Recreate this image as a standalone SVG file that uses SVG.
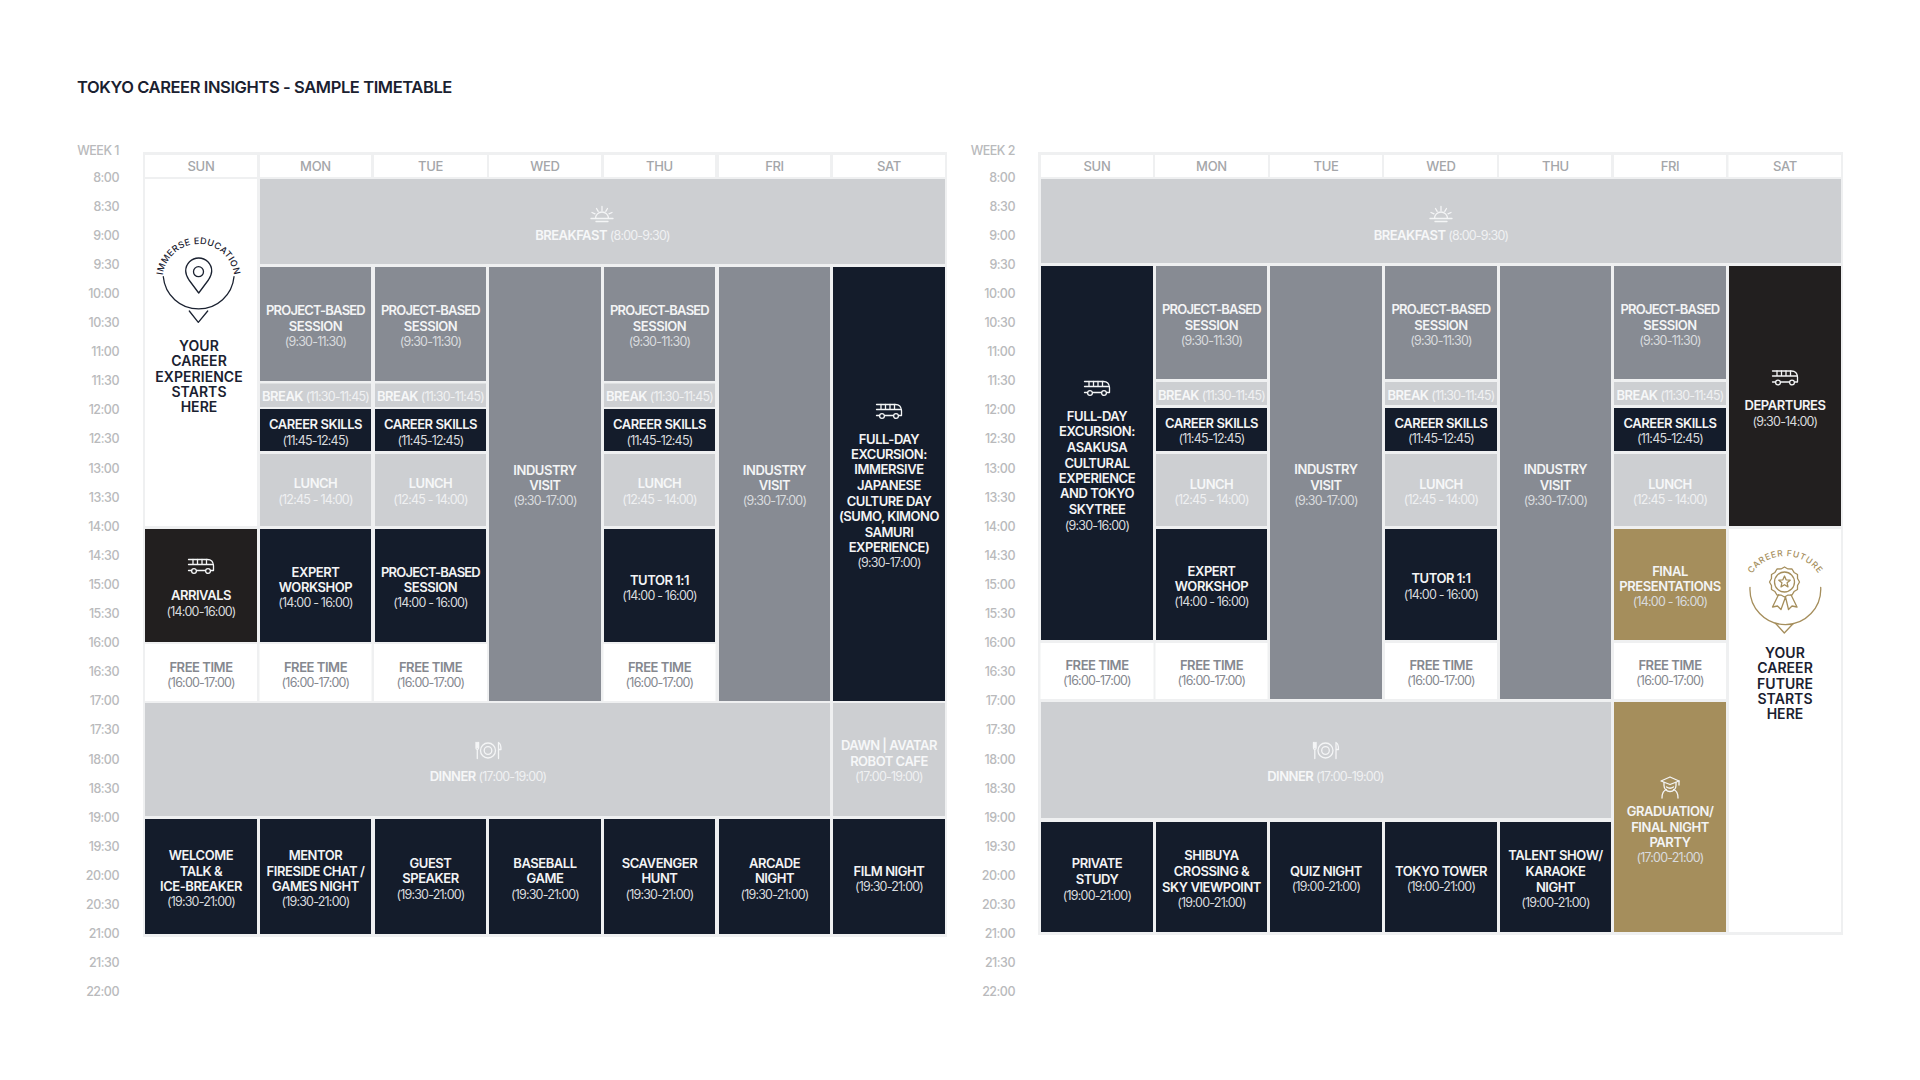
<svg xmlns="http://www.w3.org/2000/svg" xmlns:xlink="http://www.w3.org/1999/xlink" width="1920" height="1080" viewBox="0 0 1920 1080">
<style>
text{font-family:Inter,"Liberation Sans",sans-serif;text-anchor:middle}
.title{font-size:16.5px;font-weight:600;fill:#1a2130;text-anchor:start;letter-spacing:-.4px}
.hr{font-size:12.5px;font-weight:500;fill:#b9babc;text-anchor:end;letter-spacing:-.5px}
.day{font-size:13px;font-weight:500;fill:#a4a6a9;letter-spacing:-.3px}
.b{font-size:13px;font-weight:600;fill:#f3f4f5;letter-spacing:-.45px}
.pb{letter-spacing:-.8px}
.t{font-size:12.5px;font-weight:400;fill:#d9dbde;letter-spacing:-.8px}
.lb{font-size:13px;font-weight:600;fill:#f6f7f8;letter-spacing:-.5px}
.lt{font-size:12.5px;font-weight:400;fill:#f0f1f2;letter-spacing:-.8px}
.fb{font-size:13px;font-weight:600;fill:#85888f;letter-spacing:-.45px}
.ft{font-size:12.5px;font-weight:400;fill:#85888f;letter-spacing:-.8px}
.hd{font-size:14px;font-weight:600;fill:#1a2130;letter-spacing:.05px}
.arc{font-size:9px;font-weight:500}
.frame{fill:#eff0f1}.white{fill:#fff}.navy{fill:#141c2b}.char{fill:#221f1f}.mid{fill:#878b93}.light{fill:#cdcfd2}.gold{fill:#a58e5c}
.ic{fill:none;stroke-width:1.3;stroke-linecap:round;stroke-linejoin:round}
.w{stroke:#f4f5f6}
.goldl{stroke:#a58e5c}
.darkl{stroke:#1a2130}
</style>
<defs>
<g id="bus" class="ic w"><path d="M-12.5-6.500H6.500Q12-6.500 12.500-.5V4.500H10M4 4.500H-4M-9.500 4.500H-12.500Z"/><path d="M-12.500-1.500H12.300M-8-6.500V-1.500M-3.500-6.500V-1.500M1-6.500V-1.500M5.500-6.500V-1.500"/><circle cx="-7" cy="5" r="2.400"/><circle cx="7" cy="5" r="2.400"/></g>
<g id="sun" class="ic w"><path d="M-11 4.500H11M-6 7.500H6M-6.500 4.500A6.500 6.500 0 0 1 6.500 4.500"/><path d="M0-7.500V-3.500M-5.500-5.500L-3.800-2.600M5.500-5.500L3.800-2.600M-10-1.500L-7-.2M10-1.500L7-.2"/></g>
<g id="plate" class="ic w"><circle r="7.500"/><circle r="3.800"/><path d="M-12-8V-3Q-12-1-10.700-1V8M-10.700-8V-3M-9.400-8V-3Q-9.400-1-10.700-1M10.500 8V-8Q13-7 13-1H10.500"/></g>
<path id="arc1" d="M162.500 280A36 36 0 0 1 234.500 280"/>
<path id="arc2" d="M1747.300 583.500A40 40 0 0 1 1823.300 583.500"/>
</defs>
<rect class="white" width="1920" height="1080"/>
<text class="title" x="77" y="93">TOKYO CAREER INSIGHTS - SAMPLE TIMETABLE</text>

<g id="axis-week1">
<text class="hr" x="119" y="154.500">WEEK 1</text>
<text class="hr" x="119" y="181.500">8:00</text><text class="hr" x="119" y="210.600">8:30</text><text class="hr" x="119" y="239.700">9:00</text><text class="hr" x="119" y="268.800">9:30</text><text class="hr" x="119" y="297.900">10:00</text><text class="hr" x="119" y="327">10:30</text><text class="hr" x="119" y="356.100">11:00</text><text class="hr" x="119" y="385.200">11:30</text><text class="hr" x="119" y="414.300">12:00</text><text class="hr" x="119" y="443.400">12:30</text><text class="hr" x="119" y="472.500">13:00</text><text class="hr" x="119" y="501.600">13:30</text><text class="hr" x="119" y="530.700">14:00</text><text class="hr" x="119" y="559.800">14:30</text><text class="hr" x="119" y="588.900">15:00</text><text class="hr" x="119" y="618">15:30</text><text class="hr" x="119" y="647.100">16:00</text><text class="hr" x="119" y="676.200">16:30</text><text class="hr" x="119" y="705.300">17:00</text><text class="hr" x="119" y="734.400">17:30</text><text class="hr" x="119" y="763.500">18:00</text><text class="hr" x="119" y="792.600">18:30</text><text class="hr" x="119" y="821.700">19:00</text><text class="hr" x="119" y="850.800">19:30</text><text class="hr" x="119" y="879.900">20:00</text><text class="hr" x="119" y="909">20:30</text><text class="hr" x="119" y="938.100">21:00</text><text class="hr" x="119" y="967.200">21:30</text><text class="hr" x="119" y="996.300">22:00</text>
</g>
<g id="axis-week2">
<text class="hr" x="1015" y="154.500">WEEK 2</text>
<text class="hr" x="1015" y="181.500">8:00</text><text class="hr" x="1015" y="210.600">8:30</text><text class="hr" x="1015" y="239.700">9:00</text><text class="hr" x="1015" y="268.800">9:30</text><text class="hr" x="1015" y="297.900">10:00</text><text class="hr" x="1015" y="327">10:30</text><text class="hr" x="1015" y="356.100">11:00</text><text class="hr" x="1015" y="385.200">11:30</text><text class="hr" x="1015" y="414.300">12:00</text><text class="hr" x="1015" y="443.400">12:30</text><text class="hr" x="1015" y="472.500">13:00</text><text class="hr" x="1015" y="501.600">13:30</text><text class="hr" x="1015" y="530.700">14:00</text><text class="hr" x="1015" y="559.800">14:30</text><text class="hr" x="1015" y="588.900">15:00</text><text class="hr" x="1015" y="618">15:30</text><text class="hr" x="1015" y="647.100">16:00</text><text class="hr" x="1015" y="676.200">16:30</text><text class="hr" x="1015" y="705.300">17:00</text><text class="hr" x="1015" y="734.400">17:30</text><text class="hr" x="1015" y="763.500">18:00</text><text class="hr" x="1015" y="792.600">18:30</text><text class="hr" x="1015" y="821.700">19:00</text><text class="hr" x="1015" y="850.800">19:30</text><text class="hr" x="1015" y="879.900">20:00</text><text class="hr" x="1015" y="909">20:30</text><text class="hr" x="1015" y="938.100">21:00</text><text class="hr" x="1015" y="967.200">21:30</text><text class="hr" x="1015" y="996.300">22:00</text>
</g>

<g id="week1">
<rect class="frame" x="143" y="152" width="804" height="785"/>
<g id="w1-head"><rect class="white" x="145" y="155" width="112" height="22"/><rect class="white" x="260" y="155" width="111" height="22"/><rect class="white" x="374" y="155" width="113" height="22"/><rect class="white" x="489" y="155" width="112" height="22"/><rect class="white" x="604" y="155" width="111" height="22"/><rect class="white" x="719" y="155" width="111" height="22"/><rect class="white" x="833" y="155" width="112" height="22"/>
<text class="day" x="201" y="171">SUN</text><text class="day" x="315.500" y="171">MON</text><text class="day" x="430.500" y="171">TUE</text><text class="day" x="545" y="171">WED</text><text class="day" x="659.500" y="171">THU</text><text class="day" x="774.500" y="171">FRI</text><text class="day" x="889" y="171">SAT</text></g>

<g id="w1-sun-intro"><rect class="white" x="145" y="179" width="112" height="347"/>
<text class="arc" fill="#1a2130" letter-spacing=".4"><textPath href="#arc1" xlink:href="#arc1" startOffset="50%">IMMERSE EDUCATION</textPath></text>
<g class="ic darkl"><path d="M163.300 276.700A35.500 35.500 0 0 0 234 276.700"/><path d="M189.300 311L198.300 322.300L207.700 311"/><path d="M198.700 293L189 280Q185.700 275 185.700 271A13 13 0 0 1 211.700 271Q211.700 275 208.400 280Z"/><circle cx="198.500" cy="271.700" r="5"/></g>
<text class="hd" x="199" y="351">YOUR</text><text class="hd" x="199" y="366.300">CAREER</text><text class="hd" x="199" y="381.700">EXPERIENCE</text><text class="hd" x="199" y="397">STARTS</text><text class="hd" x="199" y="412.400">HERE</text></g>

<g id="w1-breakfast"><rect class="light" x="260" y="179" width="685" height="85"/><use href="#sun" xlink:href="#sun" x="602" y="214"/><text x="602.500" y="239.500"><tspan class="lb">BREAKFAST</tspan><tspan class="lt"> (8:00-9:30)</tspan></text></g>

<g id="w1-mon-session"><rect class="mid" x="260" y="267" width="111" height="114"/><text class="b pb" x="315.500" y="315">PROJECT-BASED</text><text class="b" x="315.500" y="330.500">SESSION</text><text class="t" x="315.500" y="346">(9:30-11:30)</text></g>
<g id="w1-tue-session"><rect class="mid" x="375" y="267" width="111" height="114"/><text class="b pb" x="430.500" y="315">PROJECT-BASED</text><text class="b" x="430.500" y="330.500">SESSION</text><text class="t" x="430.500" y="346">(9:30-11:30)</text></g>
<g id="w1-thu-session"><rect class="mid" x="604" y="267" width="111" height="114"/><text class="b pb" x="659.500" y="315">PROJECT-BASED</text><text class="b" x="659.500" y="330.500">SESSION</text><text class="t" x="659.500" y="346">(9:30-11:30)</text></g>

<g id="w1-mon-break"><rect class="light" x="260" y="383.500" width="111" height="23.500"/><text x="315.500" y="401"><tspan class="lb">BREAK</tspan><tspan class="lt"> (11:30-11:45)</tspan></text></g>
<g id="w1-tue-break"><rect class="light" x="375" y="383.500" width="111" height="23.500"/><text x="430.500" y="401"><tspan class="lb">BREAK</tspan><tspan class="lt"> (11:30-11:45)</tspan></text></g>
<g id="w1-thu-break"><rect class="light" x="604" y="383.500" width="111" height="23.500"/><text x="659.500" y="401"><tspan class="lb">BREAK</tspan><tspan class="lt"> (11:30-11:45)</tspan></text></g>

<g id="w1-mon-skills"><rect class="navy" x="260" y="409" width="111" height="42"/><text class="b" x="315.500" y="429">CAREER SKILLS</text><text class="t" x="315.500" y="444.500">(11:45-12:45)</text></g>
<g id="w1-tue-skills"><rect class="navy" x="375" y="409" width="111" height="42"/><text class="b" x="430.500" y="429">CAREER SKILLS</text><text class="t" x="430.500" y="444.500">(11:45-12:45)</text></g>
<g id="w1-thu-skills"><rect class="navy" x="604" y="409" width="111" height="42"/><text class="b" x="659.500" y="429">CAREER SKILLS</text><text class="t" x="659.500" y="444.500">(11:45-12:45)</text></g>

<g id="w1-mon-lunch"><rect class="light" x="260" y="454" width="111" height="72"/><text class="lb" x="315.500" y="488">LUNCH</text><text class="lt" x="315.500" y="503.500">(12:45 - 14:00)</text></g>
<g id="w1-tue-lunch"><rect class="light" x="375" y="454" width="111" height="72"/><text class="lb" x="430.500" y="488">LUNCH</text><text class="lt" x="430.500" y="503.500">(12:45 - 14:00)</text></g>
<g id="w1-thu-lunch"><rect class="light" x="604" y="454" width="111" height="72"/><text class="lb" x="659.500" y="488">LUNCH</text><text class="lt" x="659.500" y="503.500">(12:45 - 14:00)</text></g>

<g id="w1-wed-visit"><rect class="mid" x="489" y="267" width="112" height="434"/><text class="b" x="545" y="475">INDUSTRY</text><text class="b" x="545" y="490">VISIT</text><text class="t" x="545" y="505">(9:30-17:00)</text></g>
<g id="w1-fri-visit"><rect class="mid" x="719" y="267" width="111" height="434"/><text class="b" x="774.500" y="475">INDUSTRY</text><text class="b" x="774.500" y="490">VISIT</text><text class="t" x="774.500" y="505">(9:30-17:00)</text></g>
<g id="w1-sat-excursion"><rect class="navy" x="833" y="267" width="112" height="434"/><use href="#bus" xlink:href="#bus" x="889" y="411"/><text class="b" x="889" y="443.500">FULL-DAY</text><text class="b" x="889" y="459">EXCURSION:</text><text class="b" x="889" y="474.400">IMMERSIVE</text><text class="b" x="889" y="490">JAPANESE</text><text class="b" x="889" y="505.500">CULTURE DAY</text><text class="b" x="889" y="521">(SUMO, KIMONO</text><text class="b" x="889" y="536.500">SAMURI</text><text class="b" x="889" y="552">EXPERIENCE)</text><text class="t" x="889" y="567">(9:30-17:00)</text></g>

<g id="w1-sun-arrivals"><rect class="char" x="145" y="529" width="112" height="113"/><use href="#bus" xlink:href="#bus" x="201" y="566"/><text class="b" x="201" y="600">ARRIVALS</text><text class="t" x="201" y="615.500">(14:00-16:00)</text></g>
<g id="w1-mon-workshop"><rect class="navy" x="260" y="529" width="111" height="113"/><text class="b" x="315.500" y="576.700">EXPERT</text><text class="b" x="315.500" y="591.700">WORKSHOP</text><text class="t" x="315.500" y="607">(14:00 - 16:00)</text></g>
<g id="w1-tue-session2"><rect class="navy" x="375" y="529" width="111" height="113"/><text class="b pb" x="430.500" y="576.700">PROJECT-BASED</text><text class="b" x="430.500" y="591.700">SESSION</text><text class="t" x="430.500" y="607">(14:00 - 16:00)</text></g>
<g id="w1-thu-tutor"><rect class="navy" x="604" y="529" width="111" height="113"/><text class="b" x="659.500" y="584.500">TUTOR 1:1</text><text class="t" x="659.500" y="599.500">(14:00 - 16:00)</text></g>

<g id="w1-sun-free"><rect class="white" x="145" y="644" width="112" height="57"/><text class="fb" x="201" y="671.500">FREE TIME</text><text class="ft" x="201" y="686.500">(16:00-17:00)</text></g>
<g id="w1-mon-free"><rect class="white" x="259.500" y="644" width="112" height="57"/><text class="fb" x="315.500" y="671.500">FREE TIME</text><text class="ft" x="315.500" y="686.500">(16:00-17:00)</text></g>
<g id="w1-tue-free"><rect class="white" x="374" y="644" width="113" height="57"/><text class="fb" x="430.500" y="671.500">FREE TIME</text><text class="ft" x="430.500" y="686.500">(16:00-17:00)</text></g>
<g id="w1-thu-free"><rect class="white" x="603.500" y="644" width="112" height="57"/><text class="fb" x="659.500" y="671.500">FREE TIME</text><text class="ft" x="659.500" y="686.500">(16:00-17:00)</text></g>

<g id="w1-dinner"><rect class="light" x="145" y="703" width="685" height="113"/><use href="#plate" xlink:href="#plate" x="488" y="750.500"/><text x="488" y="781"><tspan class="lb">DINNER</tspan><tspan class="lt"> (17:00-19:00)</tspan></text></g>
<g id="w1-sat-dawn"><rect class="light" x="833" y="703" width="112" height="113"/><text class="lb" x="889" y="750">DAWN | AVATAR</text><text class="lb" x="889" y="765.500">ROBOT CAFE</text><text class="lt" x="889" y="781">(17:00-19:00)</text></g>

<g id="w1-sun-night"><rect class="navy" x="145" y="819" width="112" height="115"/><text class="b" x="201" y="860">WELCOME</text><text class="b" x="201" y="875.700">TALK &amp;</text><text class="b" x="201" y="891">ICE-BREAKER</text><text class="t" x="201" y="906">(19:30-21:00)</text></g>
<g id="w1-mon-night"><rect class="navy" x="260" y="819" width="111" height="115"/><text class="b" x="315.500" y="860">MENTOR</text><text class="b" x="315.500" y="875.700">FIRESIDE CHAT /</text><text class="b" x="315.500" y="891">GAMES NIGHT</text><text class="t" x="315.500" y="906">(19:30-21:00)</text></g>
<g id="w1-tue-night"><rect class="navy" x="375" y="819" width="111" height="115"/><text class="b" x="430.500" y="867.700">GUEST</text><text class="b" x="430.500" y="882.700">SPEAKER</text><text class="t" x="430.500" y="898.500">(19:30-21:00)</text></g>
<g id="w1-wed-night"><rect class="navy" x="489" y="819" width="112" height="115"/><text class="b" x="545" y="867.700">BASEBALL</text><text class="b" x="545" y="882.700">GAME</text><text class="t" x="545" y="898.500">(19:30-21:00)</text></g>
<g id="w1-thu-night"><rect class="navy" x="604" y="819" width="111" height="115"/><text class="b" x="659.500" y="867.700">SCAVENGER</text><text class="b" x="659.500" y="882.700">HUNT</text><text class="t" x="659.500" y="898.500">(19:30-21:00)</text></g>
<g id="w1-fri-night"><rect class="navy" x="719" y="819" width="111" height="115"/><text class="b" x="774.500" y="867.700">ARCADE</text><text class="b" x="774.500" y="882.700">NIGHT</text><text class="t" x="774.500" y="898.500">(19:30-21:00)</text></g>
<g id="w1-sat-night"><rect class="navy" x="833" y="819" width="112" height="115"/><text class="b" x="889" y="875.600">FILM NIGHT</text><text class="t" x="889" y="891">(19:30-21:00)</text></g>
</g>

<g id="week2">
<rect class="frame" x="1038" y="152" width="805" height="783"/>
<g id="w2-head"><rect class="white" x="1041" y="155" width="112" height="22"/><rect class="white" x="1155" y="155" width="113" height="22"/><rect class="white" x="1270" y="155" width="112" height="22"/><rect class="white" x="1384" y="155" width="113" height="22"/><rect class="white" x="1499" y="155" width="112" height="22"/><rect class="white" x="1614" y="155" width="112" height="22"/><rect class="white" x="1728.500" y="155" width="112.500" height="22"/>
<text class="day" x="1097" y="171">SUN</text><text class="day" x="1211.500" y="171">MON</text><text class="day" x="1326" y="171">TUE</text><text class="day" x="1441" y="171">WED</text><text class="day" x="1555.500" y="171">THU</text><text class="day" x="1670" y="171">FRI</text><text class="day" x="1785" y="171">SAT</text></g>

<g id="w2-breakfast"><rect class="light" x="1041" y="179" width="800" height="84"/><use href="#sun" xlink:href="#sun" x="1441" y="214"/><text x="1441" y="239.500"><tspan class="lb">BREAKFAST</tspan><tspan class="lt"> (8:00-9:30)</tspan></text></g>

<g id="w2-sun-excursion"><rect class="navy" x="1041" y="266" width="112" height="374"/><use href="#bus" xlink:href="#bus" x="1097" y="388"/><text class="b" x="1097" y="421">FULL-DAY</text><text class="b" x="1097" y="436">EXCURSION:</text><text class="b" x="1097" y="451.500">ASAKUSA</text><text class="b" x="1097" y="467.500">CULTURAL</text><text class="b" x="1097" y="483">EXPERIENCE</text><text class="b" x="1097" y="498">AND TOKYO</text><text class="b" x="1097" y="513.500">SKYTREE</text><text class="t" x="1097" y="529.500">(9:30-16:00)</text></g>

<g id="w2-mon-session"><rect class="mid" x="1156" y="266" width="111" height="113"/><text class="b pb" x="1211.500" y="314">PROJECT-BASED</text><text class="b" x="1211.500" y="329.500">SESSION</text><text class="t" x="1211.500" y="344.500">(9:30-11:30)</text></g>
<g id="w2-wed-session"><rect class="mid" x="1385" y="266" width="112" height="113"/><text class="b pb" x="1441" y="314">PROJECT-BASED</text><text class="b" x="1441" y="329.500">SESSION</text><text class="t" x="1441" y="344.500">(9:30-11:30)</text></g>
<g id="w2-fri-session"><rect class="mid" x="1614" y="266" width="112" height="113"/><text class="b pb" x="1670" y="314">PROJECT-BASED</text><text class="b" x="1670" y="329.500">SESSION</text><text class="t" x="1670" y="344.500">(9:30-11:30)</text></g>

<g id="w2-mon-break"><rect class="light" x="1156" y="382" width="111" height="23"/><text x="1211.500" y="400"><tspan class="lb">BREAK</tspan><tspan class="lt"> (11:30-11:45)</tspan></text></g>
<g id="w2-wed-break"><rect class="light" x="1385" y="382" width="112" height="23"/><text x="1441" y="400"><tspan class="lb">BREAK</tspan><tspan class="lt"> (11:30-11:45)</tspan></text></g>
<g id="w2-fri-break"><rect class="light" x="1614" y="382" width="112" height="23"/><text x="1670" y="400"><tspan class="lb">BREAK</tspan><tspan class="lt"> (11:30-11:45)</tspan></text></g>

<g id="w2-mon-skills"><rect class="navy" x="1156" y="408" width="111" height="43"/><text class="b" x="1211.500" y="428">CAREER SKILLS</text><text class="t" x="1211.500" y="443">(11:45-12:45)</text></g>
<g id="w2-wed-skills"><rect class="navy" x="1385" y="408" width="112" height="43"/><text class="b" x="1441" y="428">CAREER SKILLS</text><text class="t" x="1441" y="443">(11:45-12:45)</text></g>
<g id="w2-fri-skills"><rect class="navy" x="1614" y="408" width="112" height="43"/><text class="b" x="1670" y="428">CAREER SKILLS</text><text class="t" x="1670" y="443">(11:45-12:45)</text></g>

<g id="w2-mon-lunch"><rect class="light" x="1156" y="454" width="111" height="72"/><text class="lb" x="1211.500" y="488.500">LUNCH</text><text class="lt" x="1211.500" y="503.500">(12:45 - 14:00)</text></g>
<g id="w2-wed-lunch"><rect class="light" x="1385" y="454" width="112" height="72"/><text class="lb" x="1441" y="488.500">LUNCH</text><text class="lt" x="1441" y="503.500">(12:45 - 14:00)</text></g>
<g id="w2-fri-lunch"><rect class="light" x="1614" y="454" width="112" height="72"/><text class="lb" x="1670" y="488.500">LUNCH</text><text class="lt" x="1670" y="503.500">(12:45 - 14:00)</text></g>

<g id="w2-tue-visit"><rect class="mid" x="1270" y="266" width="112" height="433"/><text class="b" x="1326" y="473.500">INDUSTRY</text><text class="b" x="1326" y="489.500">VISIT</text><text class="t" x="1326" y="504.500">(9:30-17:00)</text></g>
<g id="w2-thu-visit"><rect class="mid" x="1500" y="266" width="111" height="433"/><text class="b" x="1555.500" y="473.500">INDUSTRY</text><text class="b" x="1555.500" y="489.500">VISIT</text><text class="t" x="1555.500" y="504.500">(9:30-17:00)</text></g>
<g id="w2-sat-departures"><rect class="char" x="1729" y="266" width="112" height="260"/><use href="#bus" xlink:href="#bus" x="1785" y="377.500"/><text class="b" x="1785" y="410">DEPARTURES</text><text class="t" x="1785" y="425.500">(9:30-14:00)</text></g>

<g id="w2-mon-workshop"><rect class="navy" x="1156" y="529" width="111" height="111"/><text class="b" x="1211.500" y="575.700">EXPERT</text><text class="b" x="1211.500" y="590.700">WORKSHOP</text><text class="t" x="1211.500" y="606">(14:00 - 16:00)</text></g>
<g id="w2-wed-tutor"><rect class="navy" x="1385" y="529" width="112" height="111"/><text class="b" x="1441" y="583">TUTOR 1:1</text><text class="t" x="1441" y="598.500">(14:00 - 16:00)</text></g>
<g id="w2-fri-final"><rect class="gold" x="1614" y="529" width="112" height="111"/><text class="b" x="1670" y="575.700">FINAL</text><text class="b" x="1670" y="591">PRESENTATIONS</text><text class="t" x="1670" y="606">(14:00 - 16:00)</text></g>

<g id="w2-sat-future"><rect class="white" x="1729" y="529" width="112" height="403"/>
<text class="arc" fill="#a58e5c" letter-spacing=".7" style="font-size:8.5px"><textPath href="#arc2" xlink:href="#arc2" startOffset="50%">CAREER FUTURE</textPath></text>
<g class="ic goldl"><path d="M1750 587.300A35.400 35.400 0 1 0 1820.700 587.300"/><path d="M1775.700 623.500L1784.300 633L1793.300 623.500"/>
<g transform="translate(1784.500 582)"><path d="M15 0L13.040 3.490L12.990 7.500L9.550 9.550L7.500 12.990L3.490 13.040L0 15L-3.490 13.040L-7.500 12.990L-9.550 9.550L-12.990 7.500L-13.040 3.490L-15 0L-13.040-3.490L-12.990-7.500L-9.550-9.550L-7.500-12.990L-3.490-13.040L0-15L3.490-13.040L7.500-12.990L9.550-9.550L12.990-7.500L13.040-3.490Z"/><circle r="10"/><path d="M0-6L1.600-2.200L5.700-1.850L2.600.85L3.500 4.850L0 2.750L-3.500 4.850L-2.600.85L-5.700-1.850L-1.600-2.200Z"/><path d="M-6 12.800L-12 25L-7 24L-3.500 27.500L1 15M1 15L4 27.500L7.500 24L12.500 25L6.500 12.800"/></g></g>
<text class="hd" x="1785" y="658">YOUR</text><text class="hd" x="1785" y="673.300">CAREER</text><text class="hd" x="1785" y="688.700">FUTURE</text><text class="hd" x="1785" y="704">STARTS</text><text class="hd" x="1785" y="719.400">HERE</text></g>

<g id="w2-sun-free"><rect class="white" x="1040.500" y="643" width="113" height="56"/><text class="fb" x="1097" y="670">FREE TIME</text><text class="ft" x="1097" y="685">(16:00-17:00)</text></g>
<g id="w2-mon-free"><rect class="white" x="1155.500" y="643" width="112" height="56"/><text class="fb" x="1211.500" y="670">FREE TIME</text><text class="ft" x="1211.500" y="685">(16:00-17:00)</text></g>
<g id="w2-wed-free"><rect class="white" x="1385" y="643" width="112" height="56"/><text class="fb" x="1441" y="670">FREE TIME</text><text class="ft" x="1441" y="685">(16:00-17:00)</text></g>
<g id="w2-fri-free"><rect class="white" x="1614" y="643" width="112" height="56"/><text class="fb" x="1670" y="670">FREE TIME</text><text class="ft" x="1670" y="685">(16:00-17:00)</text></g>

<g id="w2-dinner"><rect class="light" x="1041" y="702" width="570" height="116"/><use href="#plate" xlink:href="#plate" x="1325.500" y="750.500"/><text x="1325.500" y="781"><tspan class="lb">DINNER</tspan><tspan class="lt"> (17:00-19:00)</tspan></text></g>
<g id="w2-fri-graduation"><rect class="gold" x="1614" y="702" width="112" height="230"/>
<g class="ic w" transform="translate(1670 787)"><path d="M-9-6L0-10L9-6L0-2.500Z"/><path d="M-6-4.500V-1.500A6 6 0 0 0 6-1.500V-4.500"/><path d="M9-6V-2M-3.500 0Q0 2.500 3.500 0M-8 11Q-8 4-3.500 2.500M8 11Q8 4 3.500 2.500"/></g>
<text class="b" x="1670" y="816">GRADUATION/</text><text class="b" x="1670" y="832">FINAL NIGHT</text><text class="b" x="1670" y="847">PARTY</text><text class="t" x="1670" y="862">(17:00-21:00)</text></g>

<g id="w2-sun-night"><rect class="navy" x="1041" y="822" width="112" height="110"/><text class="b" x="1097" y="868">PRIVATE</text><text class="b" x="1097" y="884">STUDY</text><text class="t" x="1097" y="899.500">(19:00-21:00)</text></g>
<g id="w2-mon-night"><rect class="navy" x="1156" y="822" width="111" height="110"/><text class="b" x="1211.500" y="860">SHIBUYA</text><text class="b" x="1211.500" y="876">CROSSING &amp;</text><text class="b" x="1211.500" y="892">SKY VIEWPOINT</text><text class="t" x="1211.500" y="906.500">(19:00-21:00)</text></g>
<g id="w2-tue-night"><rect class="navy" x="1270" y="822" width="112" height="110"/><text class="b" x="1326" y="875.700">QUIZ NIGHT</text><text class="t" x="1326" y="891">(19:00-21:00)</text></g>
<g id="w2-wed-night"><rect class="navy" x="1385" y="822" width="112" height="110"/><text class="b" x="1441" y="875.700">TOKYO TOWER</text><text class="t" x="1441" y="891">(19:00-21:00)</text></g>
<g id="w2-thu-night"><rect class="navy" x="1500" y="822" width="111" height="110"/><text class="b" x="1555.500" y="860">TALENT SHOW/</text><text class="b" x="1555.500" y="876">KARAOKE</text><text class="b" x="1555.500" y="892">NIGHT</text><text class="t" x="1555.500" y="906.500">(19:00-21:00)</text></g>
</g>
<g id="connectors"/>
</svg>
